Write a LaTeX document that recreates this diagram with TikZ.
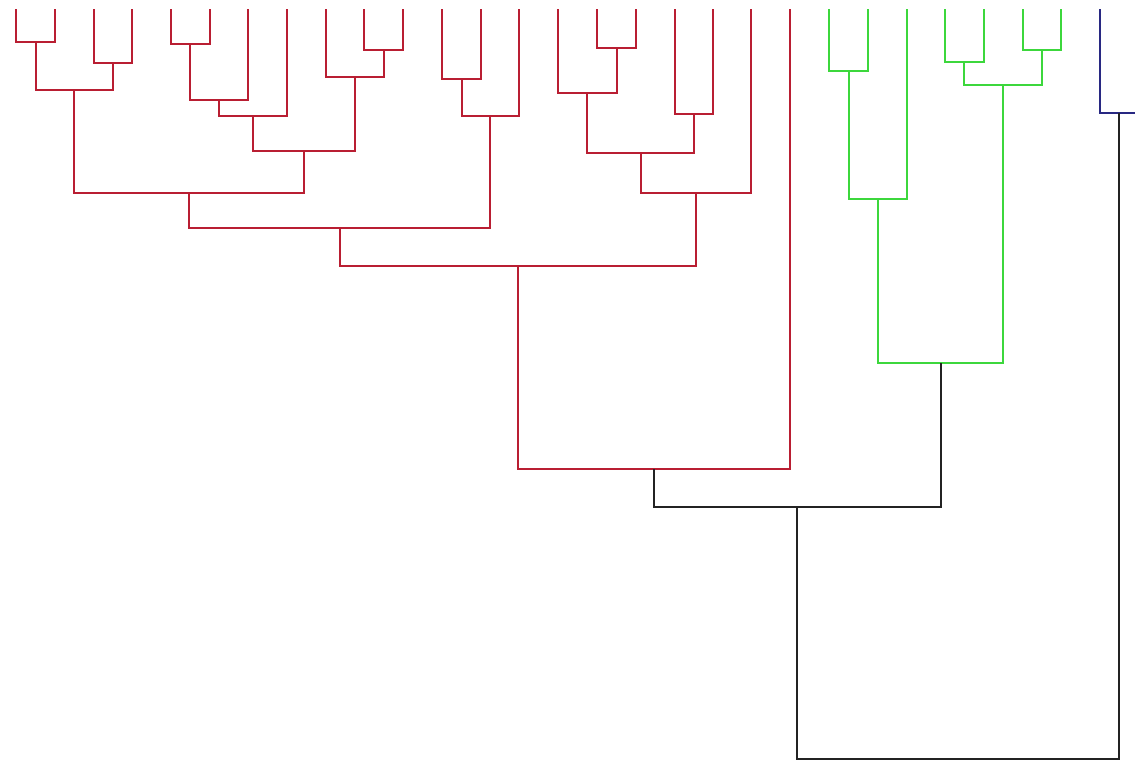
\documentclass[tikz,border=0pt]{standalone}
\definecolor{dred}{RGB}{185,30,50}
\definecolor{dgreen}{RGB}{60,215,60}
\definecolor{dblue}{RGB}{40,40,130}
\definecolor{dblack}{RGB}{35,35,35}
\tikzset{
  redlink/.style={draw=dred,line width=1.6pt},
  greenlink/.style={draw=dgreen,line width=1.6pt},
  bluelink/.style={draw=dblue,line width=1.6pt},
  blacklink/.style={draw=dblack,line width=1.6pt}
}
\begin{document}
\begin{tikzpicture}[x=1pt,y=-1pt]
\useasboundingbox (0,0) rectangle (1135,761);
\clip (0,0) rectangle (1135,761);
\fill[white] (0,0) rectangle (1135,761);
% leaves
\foreach \n/\x in {1/16,2/55,3/94,4/132,5/171,6/210,7/248,8/287,9/326,10/364,11/403,12/442,13/481,14/519,15/558,16/597,17/636,18/675,19/713,20/751,21/790,22/829,23/868,24/907,25/945,26/984,27/1023,28/1061,29/1100,30/1139}
  \coordinate (L\n) at (\x,9);
% merge points
\coordinate (A1) at (36,42);
\coordinate (A2) at (113,63);
\coordinate (A3) at (74,90);
\coordinate (B1) at (190,44);
\coordinate (B2) at (219,100);
\coordinate (B3) at (253,116);
\coordinate (C1) at (384,50);
\coordinate (C2) at (355,77);
\coordinate (C3) at (304,151);
\coordinate (D1) at (189,193);
\coordinate (E1) at (462,79);
\coordinate (E2) at (490,116);
\coordinate (F1) at (340,228);
\coordinate (G1) at (617,48);
\coordinate (G2) at (587,93);
\coordinate (G3) at (694,114);
\coordinate (G4) at (641,153);
\coordinate (G5) at (696,193);
\coordinate (H1) at (518,266);
\coordinate (H2) at (654,469);
\coordinate (K1) at (849,71);
\coordinate (K2) at (878,199);
\coordinate (K3) at (964,62);
\coordinate (K4) at (1042,50);
\coordinate (K5) at (1003,85);
\coordinate (K6) at (941,363);
\coordinate (M1) at (797,507);
\coordinate (N1) at (1119,113);
\coordinate (R) at (958,759);
% red cluster
\draw[redlink] (L1) |- (A1) -| (L2);
\draw[redlink] (L3) |- (A2) -| (L4);
\draw[redlink] (A1) |- (A3) -| (A2);
\draw[redlink] (L5) |- (B1) -| (L6);
\draw[redlink] (B1) |- (B2) -| (L7);
\draw[redlink] (B2) |- (B3) -| (L8);
\draw[redlink] (L10) |- (C1) -| (L11);
\draw[redlink] (L9) |- (C2) -| (C1);
\draw[redlink] (B3) |- (C3) -| (C2);
\draw[redlink] (A3) |- (D1) -| (C3);
\draw[redlink] (L12) |- (E1) -| (L13);
\draw[redlink] (E1) |- (E2) -| (L14);
\draw[redlink] (D1) |- (F1) -| (E2);
\draw[redlink] (L16) |- (G1) -| (L17);
\draw[redlink] (L15) |- (G2) -| (G1);
\draw[redlink] (L18) |- (G3) -| (L19);
\draw[redlink] (G2) |- (G4) -| (G3);
\draw[redlink] (G4) |- (G5) -| (L20);
\draw[redlink] (F1) |- (H1) -| (G5);
\draw[redlink] (H1) |- (H2) -| (L21);
% green cluster
\draw[greenlink] (L22) |- (K1) -| (L23);
\draw[greenlink] (K1) |- (K2) -| (L24);
\draw[greenlink] (L25) |- (K3) -| (L26);
\draw[greenlink] (L27) |- (K4) -| (L28);
\draw[greenlink] (K3) |- (K5) -| (K4);
\draw[greenlink] (K2) |- (K6) -| (K5);
% blue cluster
\draw[bluelink] (L29) |- (N1) -| (L30);
% black links
\draw[blacklink] (H2) |- (M1) -| (K6);
\draw[blacklink] (M1) |- (R) -| (N1);
\end{tikzpicture}
\end{document}
